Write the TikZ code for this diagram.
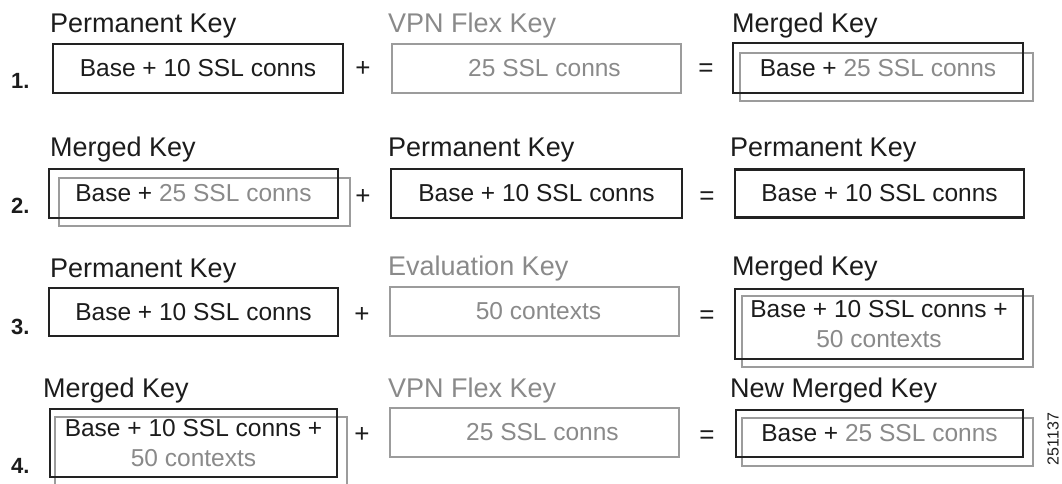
\documentclass[tikz,border=0pt]{standalone}
\usepackage{fontspec}
\setmainfont{Liberation Sans}
\definecolor{txtblack}{HTML}{1C1C1C}
\definecolor{txtgrey}{HTML}{8A8A8A}
\definecolor{boxblack}{HTML}{222222}
\definecolor{boxgrey}{HTML}{9C9C9C}
\newcommand\lblfnt{\fontsize{27}{30}\selectfont}
\newcommand\boxfnt{\fontsize{24.5}{30}\selectfont}
\newcommand\opfnt{\fontsize{26}{30}\selectfont}
\newcommand\numfnt{\fontsize{22}{24}\selectfont\bfseries}
\newcommand\gry[1]{{\color{txtgrey}#1}}
\tikzset{
  kbox/.style={draw=boxblack, line width=2.4pt, inner sep=0pt, font=\boxfnt, text=txtblack, align=center},
  gbox/.style={draw=boxgrey, line width=1.8pt, inner sep=0pt, font=\boxfnt, text=txtgrey, align=center},
  shadowbox/.style={draw=boxgrey, line width=1.8pt, inner sep=0pt},
  lbl/.style={anchor=base west, inner sep=0pt, font=\lblfnt, text=txtblack},
  glbl/.style={lbl, text=txtgrey},
  op/.style={inner sep=0pt, font=\opfnt, text=txtblack},
  rownum/.style={anchor=base west, inner sep=0pt, font=\numfnt, text=txtblack},
  sz/.style 2 args={minimum width=#1pt, minimum height=#2pt}
}
\begin{document}
\begin{tikzpicture}[x=1pt,y=-1pt]
\useasboundingbox[fill=white] (0,0) rectangle (1062,484);

% ---------- Row 1 ----------
\node[rownum] (n1) at (11,89) {1.};
\node[lbl] (l1a) at (50,33) {Permanent Key};
\node[kbox, sz={290}{49}] (b1a) at (198,68.5) {Base + 10 SSL conns};
\node[op] (p1) at (363,69) {+};
\node[glbl] (l1b) at (388,33) {VPN Flex Key};
\node[gbox, sz={289}{49}] (b1b) at (536.5,68.5) {\hspace{16pt}25 SSL conns};
\node[op] (e1) at (706,70) {=};
\node[lbl] (l1c) at (732,33) {Merged Key};
\node[shadowbox, sz={293}{48}] (s1c) at (886.5,77) {};
\node[kbox, sz={290}{50}] (b1c) at (878,68) {Base + \gry{25 SSL conns}};

% ---------- Row 2 ----------
\node[rownum] (n2) at (11,213) {2.};
\node[lbl] (l2a) at (50,157) {Merged Key};
\node[shadowbox, sz={291}{48}] (s2a) at (204.5,202) {};
\node[kbox, sz={289}{49}] (b2a) at (193.5,193.5) {Base + \gry{25 SSL conns}};
\node[op] (p2) at (363,197) {+};
\node[lbl] (l2b) at (388,157) {Permanent Key};
\node[kbox, sz={291}{49}] (b2b) at (536.5,193.5) {Base + 10 SSL conns};
\node[op] (e2) at (707,198) {=};
\node[lbl] (l2c) at (730,157) {Permanent Key};
\node[kbox, sz={289}{48}] (b2c) at (879.5,193.5) {Base + 10 SSL conns};

% ---------- Row 3 ----------
\node[rownum] (n3) at (11,334) {3.};
\node[lbl] (l3a) at (50,277) {Permanent Key};
\node[kbox, sz={289}{48}] (b3a) at (193.5,312) {Base + 10 SSL conns};
\node[op] (p3) at (362,315) {+};
\node[glbl] (l3b) at (388,275) {Evaluation Key};
\node[gbox, sz={289}{49}] (b3b) at (534.5,311.5) {\hspace{8pt}50 contexts};
\node[op] (e3) at (707,317) {=};
\node[lbl] (l3c) at (732,275) {Merged Key};
\node[shadowbox, sz={291}{71}] (s3c) at (887.5,331.5) {};
\node[kbox, sz={288}{70}] (b3c) at (879,324) {Base + 10 SSL conns +\\ \gry{50 contexts}};

% ---------- Row 4 ----------
\node[rownum] (n4) at (11,473) {4.};
\node[lbl] (l4a) at (43,397) {Merged Key};
\node[shadowbox, sz={292}{73}] (s4a) at (201,453.5) {};
\node[kbox, sz={287}{68}] (b4a) at (193.5,443) {Base + 10 SSL conns +\\ \gry{50 contexts}};
\node[op] (p4) at (362,435) {+};
\node[glbl] (l4b) at (388,397) {VPN Flex Key};
\node[gbox, sz={289}{49}] (b4b) at (534.5,432.5) {\hspace{16pt}25 SSL conns};
\node[op] (e4) at (707,437) {=};
\node[lbl] (l4c) at (730,397) {New Merged Key};
\node[shadowbox, sz={291}{48}] (s4c) at (887.5,442) {};
\node[kbox, sz={287}{47}] (b4c) at (879.5,433.5) {Base + \gry{25 SSL conns}};

% figure id
\node[inner sep=0pt, rotate=90, font=\fontsize{16}{18}\selectfont, text=txtblack] (fid) at (1053,439) {251137};
\end{tikzpicture}
\end{document}
